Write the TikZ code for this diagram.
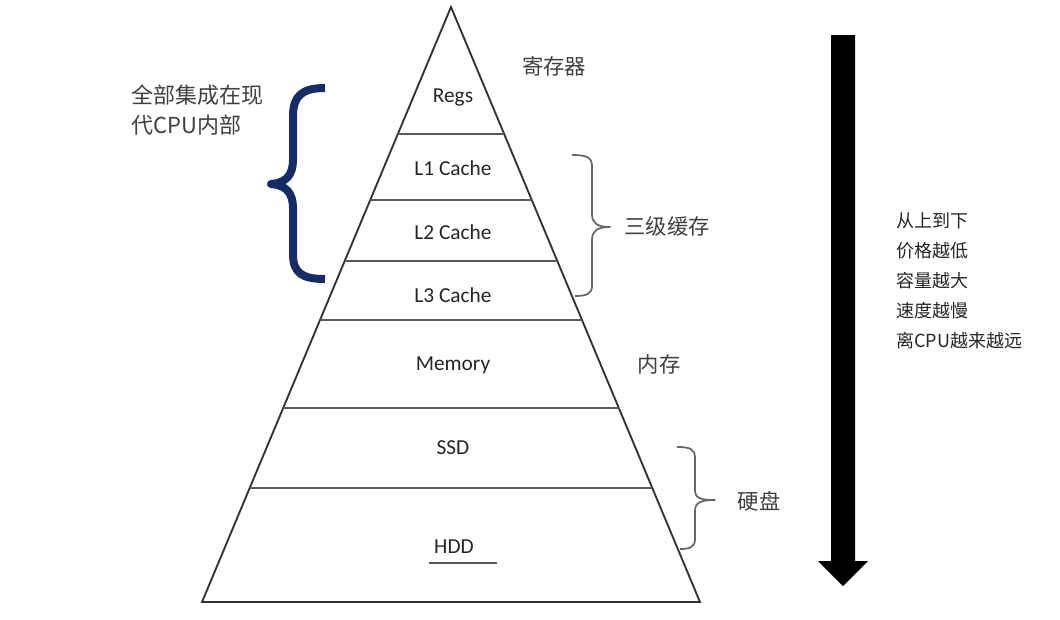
\documentclass[tikz,border=0pt]{standalone}
\usepackage{fontspec}
\setmainfont{Carlito}
\newfontfamily\cjk{Noto Sans CJK SC}
\definecolor{navy}{RGB}{22,44,100}
\begin{document}
\begin{tikzpicture}[x=0.75pt,y=-0.75pt,
  tri/.style={draw=black!80,line width=1.4pt,line join=miter},
  layer/.style={draw=black!65,line width=1.1pt},
  lbl/.style={font=\fontsize{16}{19}\selectfont,text=black!85,inner sep=0pt},
  cn/.style={font=\cjk\fontsize{16}{19}\selectfont,text=black!75,inner sep=0pt},
  cnsmall/.style={font=\cjk\fontsize{13.5}{22.5}\selectfont,text=black!85,inner sep=0pt,align=left},
  gbrace/.style={draw=black!60,line width=1.3pt,line join=round},
  bigbrace/.style={draw=navy,line width=6pt,line join=round},
]
\useasboundingbox (0,0) rectangle (1060,619);
% pyramid
\coordinate (apex) at (451,7);
\coordinate (bl) at (202,602);
\coordinate (br) at (700,602);
\draw[tri] (apex) -- (bl) -- (br) -- cycle;
\draw[layer] (397.9,134) -- (504.1,134);
\draw[layer] (370.2,200) -- (531.8,200);
\draw[layer] (344.7,261) -- (557.3,261);
\draw[layer] (320.0,320) -- (582.0,320);
\draw[layer] (283.2,408) -- (618.8,408);
\draw[layer] (249.7,488) -- (652.3,488);
% layer labels
\node[lbl] (regs) at (453,97) {Regs};
\node[lbl] (l1) at (453,168) {L1 Cache};
\node[lbl] (l2) at (453,232) {L2 Cache};
\node[lbl] (l3) at (453,295) {L3 Cache};
\node[lbl] (mem) at (453,365) {Memory};
\node[lbl] (ssd) at (453,448) {SSD};
\node[lbl] (hdd) at (454,547) {HDD};
\draw[draw=black!65,line width=1.1pt] (429,563) -- (497,563);
% right-side labels
\node[cn] (reg) at (554,66) {寄存器};
\node[cn] (cache3) at (667,226) {三级缓存};
\node[cn] (neicun) at (659,364) {内存};
\node[cn] (yingpan) at (759,501) {硬盘};
% left label
\node[cn,anchor=west,align=left,font=\cjk\fontsize{16.5}{22.5}\selectfont] (cpu) at (131,110) {全部集成在现\\代CPU内部};
% braces
\draw[bigbrace] (325,88) .. controls (302,88) and (293,96) .. (293,116) -- (293,160)
  .. controls (293,175) and (286,183) .. (271,184)
  .. controls (286,185) and (293,193) .. (293,208) -- (293,254)
  .. controls (293,273) and (302,279) .. (325,279);
\draw[gbrace] (572,155) .. controls (586,155) and (592,157) .. (592,166) -- (592,214)
  .. controls (592,223) and (597,227) .. (610,227)
  .. controls (597,227) and (592,231) .. (592,240) -- (592,286)
  .. controls (592,294) and (586,296) .. (575,296);
\draw[gbrace] (677,447) .. controls (690,447) and (695,449) .. (695,458) -- (695,490)
  .. controls (695,498) and (700,500) .. (715,500)
  .. controls (700,500) and (695,503) .. (695,511) -- (695,539)
  .. controls (695,547) and (690,549) .. (680,549);
% big arrow
\fill[black] (831,35) -- (855,35) -- (855,561) -- (868,561) -- (843,586) -- (818,561) -- (831,561) -- cycle;
\node[cnsmall,anchor=west] (note) at (896,281) {从上到下\\价格越低\\容量越大\\速度越慢\\离CPU越来越远};
\end{tikzpicture}
\end{document}
